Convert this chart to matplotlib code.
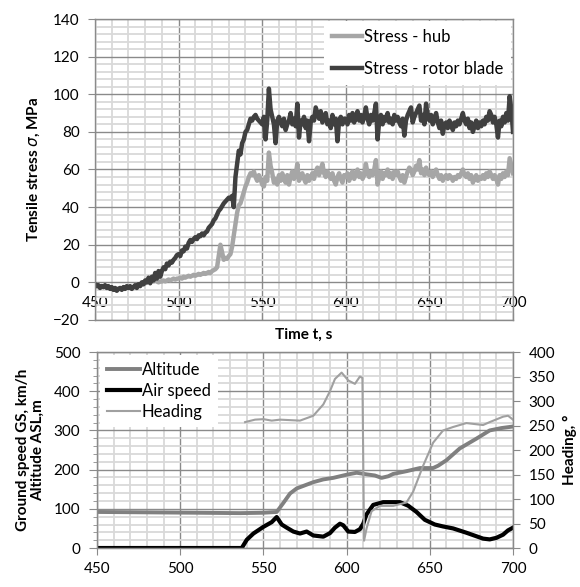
import matplotlib
matplotlib.use("Agg")
import matplotlib.pyplot as plt
from matplotlib.ticker import MultipleLocator
import numpy as np

plt.rcParams['font.family'] = ['Lato', 'DejaVu Sans']
plt.rcParams['mathtext.fontset'] = 'dejavusans'

# stress record, one value per second from 450 s to 700 s
t_stress = np.arange(450, 701, 1)
stress_blade = [
    -1, -2, -1.5, -3, -2, -2.5, -1.5, -3, -2, -3.5,
    -2.5, -4, -3, -4.5, -3.5, -3, -4, -2.5, -3.5, -2,
    -3, -2, -3.5, -2.5, -1.5, -3, -1, -2, 0, -1,
    1, 0, 2.5, -0.5, 3, 1, 5, 2, 6, 3,
    6, 8, 7, 10, 9, 11, 10.5, 12, 13, 14.5,
    15, 14, 17, 16.5, 19, 18, 21, 22.5, 21.5, 23,
    24, 23, 25, 24.5, 26, 25, 26.5, 27, 29, 30,
    31, 33, 34, 36, 38, 39, 40.5, 42, 43, 44,
    45, 44.5, 46, 40, 56, 63, 70, 68, 74, 76,
    80, 81, 84, 87, 86, 88, 89, 87, 86, 85,
    84, 88, 76, 86, 103, 92, 88, 84, 74, 86,
    88, 85, 83, 87, 81, 84, 86, 90, 84, 87,
    83, 95, 77, 86, 84, 88, 82, 86, 75, 85,
    88, 86, 93, 90, 87, 91, 85, 88, 90, 84,
    86, 82, 89, 84, 87, 75, 86, 88, 84, 87,
    87, 84, 89, 86, 90, 85, 88, 91, 86, 89,
    85, 88, 93, 87, 84, 89, 86, 90, 95, 76,
    86, 89, 84, 88, 86, 90, 85, 87, 84, 89,
    86, 88, 85, 83, 87, 78, 86, 89, 91, 93,
    85, 88, 90, 92, 94, 86, 89, 84, 95, 88,
    86, 89, 84, 87, 90, 85, 82, 86, 79, 84,
    85, 82, 86, 84, 81, 85, 83, 86, 84, 87,
    90, 86, 84, 87, 82, 85, 80, 83, 86, 82,
    85, 83, 86, 84, 88, 86, 91, 89, 85, 88,
    84, 77, 86, 83, 88, 85, 90, 86, 99, 92,
    80,
]
stress_hub = [
    -1.5, -2, -2, -2.5, -2, -2.5, -2, -2.5, -2.5, -3,
    -3, -3.5, -3, -3.5, -3.5, -3, -3.5, -3, -3, -2.5,
    -2.5, -2.5, -3, -2.5, -2, -2.5, -1.5, -1.5, -1, -1,
    -0.5, 0, 0.5, 0, 1, 0.5, 1.5, 0.5, 0, 0.5,
    0.5, 1, 0.5, 1, 1.5, 1, 1.5, 2, 1.5, 2,
    2, 2.5, 2, 3, 2.5, 3, 3.5, 3, 3.5, 4,
    3.5, 4, 4.5, 4, 4.5, 5, 4.5, 5, 5.5, 5,
    6, 6.5, 7, 8, 14, 20, 16, 12, 13, 12.5,
    14, 15, 19, 25, 31, 37, 41, 42, 45, 48,
    51, 53, 56, 58, 57, 59, 56, 54, 57, 55,
    52, 51, 56, 54, 69, 62, 58, 53, 55, 52,
    57, 54, 58, 55, 53, 57, 52, 56, 59, 55,
    57, 63, 54, 56, 58, 55, 53, 57, 54, 56,
    58, 55, 59, 61, 57, 60, 63, 58, 56, 59,
    57, 55, 58, 54, 52, 56, 58, 55, 53, 57,
    56, 58, 54, 57, 59, 55, 58, 60, 56, 58,
    55, 57, 63, 58, 56, 59, 57, 60, 65, 52,
    56, 59, 55, 58, 57, 60, 56, 58, 55, 59,
    57, 59, 56, 54, 57, 53, 56, 59, 61, 60,
    57, 59, 62, 60, 65, 58, 60, 57, 61, 58,
    57, 59, 56, 58, 60, 57, 55, 57, 54, 56,
    57, 55, 57, 56, 54, 56, 55, 57, 56, 58,
    60, 57, 56, 58, 55, 57, 53, 55, 57, 54,
    56, 55, 57, 55, 58, 56, 59, 57, 55, 57,
    55, 52, 57, 55, 58, 56, 59, 57, 66, 62,
    58,
]

# flight data
t_alt = [450, 480, 510, 536, 550, 558, 562, 566, 570, 575, 580, 586, 592, 600,
         606, 612, 617, 621, 625, 628, 636, 644, 652, 655, 660, 668, 678, 686, 693, 700]
altitude = [92, 91, 90, 89, 90, 92, 115, 139, 152, 160, 168, 175, 179, 187,
            192, 188, 185, 179, 183, 189, 196, 204, 204, 210, 224, 254, 279, 300, 306, 310]

t_air = [450, 537, 540, 544, 550, 555, 558, 561, 564, 568, 572, 576, 580, 586, 590,
         593, 596, 598, 601, 605, 608, 610, 612, 616, 622, 632, 637, 642, 647, 653,
         658, 664, 672, 682, 686, 690, 694, 697, 700]
air_speed = [0, 0, 21, 37, 54, 66, 79, 60, 52, 42, 37, 42, 32, 29, 38,
             52, 62, 58, 42, 41, 48, 62, 86, 110, 117, 117, 108, 92, 72, 60,
             55, 50, 39, 24, 22, 26, 34, 45, 52]

t_head = [539, 545, 550, 555, 560, 572, 580, 586, 590, 593, 597, 601, 605, 608,
          609.5, 610.5, 612, 615, 620, 628, 636, 640, 646, 652, 658, 664, 672,
          682, 686, 694, 697, 700]
heading = [257, 262, 263, 260, 262, 260, 270, 293, 320, 345, 358, 342, 335, 350,
           347, 15, 40, 75, 86, 86, 93, 115, 168, 215, 240, 247, 255,
           251, 257, 268, 270, 262]

major_c = '#8a8a8a'
minor_c = '#d9d9d9'

fig = plt.figure(figsize=(5.8, 5.87), dpi=100)
ax1 = fig.add_axes([0.1638, 0.4549, 0.7207, 0.5127])
ax2 = fig.add_axes([0.1672, 0.0664, 0.7173, 0.3339])


def style_grid(ax):
    ax.grid(which='major', color=major_c, lw=1.0)
    ax.grid(which='minor', color=minor_c, lw=1.3)
    ax.set_axisbelow(True)
    for s in ax.spines.values():
        s.set_color(major_c)
        s.set_linewidth(1.0)


# top: stress
ax1.plot(t_stress, stress_hub, color='#a6a6a6', lw=3.2, label='Stress - hub')
ax1.plot(t_stress, stress_blade, color='#404040', lw=3.2, label='Stress - rotor blade')
ax1.set_xlim(450, 700)
ax1.set_ylim(-20, 140)
ax1.xaxis.set_major_locator(MultipleLocator(50))
ax1.xaxis.set_minor_locator(MultipleLocator(10))
ax1.yaxis.set_major_locator(MultipleLocator(20))
ax1.yaxis.set_minor_locator(MultipleLocator(4))
style_grid(ax1)
ax1.tick_params(axis='x', which='major', direction='in', length=5, color=major_c,
                pad=-17, labelsize=11)
ax1.tick_params(axis='x', which='minor', length=0)
ax1.tick_params(axis='y', which='major', direction='out', length=5, color=major_c,
                pad=6, labelsize=11)
ax1.tick_params(axis='y', which='minor', length=0)
ax1.set_xlabel('Time t, s', fontweight='bold', fontsize=11, labelpad=2)
ax1.set_ylabel(r'Tensile stress $\sigma$, MPa', fontweight='bold', fontsize=11, labelpad=8)
ax1.legend(loc='upper right', fontsize=12, frameon=True, fancybox=False,
           edgecolor='none', facecolor='white', framealpha=1,
           handlelength=1.8, handletextpad=0.1, labelspacing=0.95,
           borderaxespad=0.1, borderpad=0.5)

# bottom: flight data
ax2.plot(t_alt, altitude, color='#808080', lw=2.8, label='Altitude')
ax2.plot(t_air, air_speed, color='#000000', lw=3.0, label='Air speed')
ax2.set_xlim(450, 700)
ax2.set_ylim(0, 500)
ax2.xaxis.set_major_locator(MultipleLocator(50))
ax2.xaxis.set_minor_locator(MultipleLocator(10))
ax2.yaxis.set_major_locator(MultipleLocator(100))
ax2.yaxis.set_minor_locator(MultipleLocator(20))
style_grid(ax2)
ax2.tick_params(axis='x', which='major', direction='out', length=5, color=major_c,
                pad=5, labelsize=11)
ax2.tick_params(axis='x', which='minor', length=0)
ax2.tick_params(axis='y', which='major', direction='out', length=6, color=major_c,
                pad=6, labelsize=11)
ax2.tick_params(axis='y', which='minor', direction='out', length=3, color=major_c)
ax2.set_ylabel('Ground speed GS, km/h\nAltitude ASL,m', fontweight='bold',
               fontsize=11, labelpad=6, linespacing=1.1)

ax3 = ax2.twinx()
ax3.plot(t_head, heading, color='#a0a0a0', lw=1.5, label='Heading')
ax3.set_ylim(0, 400)
ax3.yaxis.set_major_locator(MultipleLocator(50))
ax3.tick_params(axis='y', which='major', direction='out', length=5, color=major_c,
                pad=6, labelsize=11)
for s in ax3.spines.values():
    s.set_color(major_c)
ax3.set_ylabel('Heading, °', fontweight='bold', fontsize=11, labelpad=6)

h2, l2 = ax2.get_legend_handles_labels()
h3, l3 = ax3.get_legend_handles_labels()
ax3.legend(h2 + h3, l2 + l3, loc='upper left', fontsize=12, frameon=True,
           fancybox=False, edgecolor='none', facecolor='white', framealpha=1,
           handlelength=2.0, handletextpad=0.1, labelspacing=0.3,
           borderaxespad=0.2, borderpad=0.4)

fig.savefig('out.png', dpi=100)
